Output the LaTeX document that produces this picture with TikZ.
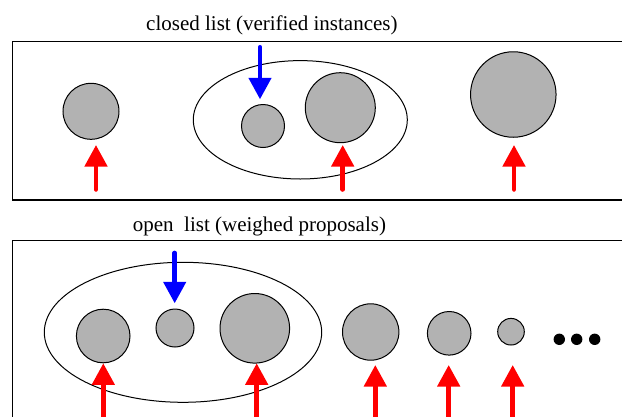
\documentclass[tikz,border=0pt]{standalone}
\usepackage{fontspec}
\setmainfont{Liberation Serif}
\usetikzlibrary{arrows.meta,shapes.geometric}
\definecolor{ballgray}{gray}{0.7}
\begin{document}
\begin{tikzpicture}[x=1pt,y=-1pt,
  frame/.style={draw=black,line width=1.3pt},
  ball/.style={circle,draw=black,line width=1pt,fill=ballgray,inner sep=0pt},
  group/.style={ellipse,draw=black,line width=1pt,inner sep=0pt},
  redarrow/.style={draw=red,line width=4.5pt,line cap=round,-{Triangle[length=21.5pt,width=22pt]}},
  bluearrow/.style={draw=blue,line width=4.5pt,line cap=round,-{Triangle[length=21.5pt,width=22pt]}},
  dot/.style={circle,fill=black,inner sep=0pt,minimum size=11.4pt},
  title/.style={anchor=base west,inner sep=0pt,font=\fontsize{21}{25}\selectfont}]
\useasboundingbox (0,0) rectangle (622,416);
\clip (0,0) rectangle (622,416);
\fill[white] (0,0) rectangle (622,416);

% ---------- closed list ----------
\node[title] (tclosed) at (146,30) {closed list (verified instances)};
\draw[frame] (12.5,41.5) rectangle (660,200);
\node[group,minimum width=214pt,minimum height=118.4pt] (g1) at (300.3,119.8) {};
\node[ball,minimum size=56pt] (c1) at (91,111.3) {};
\node[ball,minimum size=43pt] (c2) at (263,126) {};
\node[ball,minimum size=70pt] (c3) at (340.3,107.7) {};
\node[ball,minimum size=85.5pt] (c4) at (513.3,94.5) {};

\coordinate (b1t) at (260,47.2);
\coordinate (b1h) at (260,99.3);
\draw[bluearrow] (b1t) -- (b1h);

\coordinate (r1t) at (96,189.5);
\coordinate (r1h) at (96,145);
\coordinate (r2t) at (342.7,189.5);
\coordinate (r2h) at (342.7,145);
\coordinate (r3t) at (514,189.5);
\coordinate (r3h) at (514,145);
\draw[redarrow] (r1t) -- (r1h);
\draw[redarrow] (r2t) -- (r2h);
\draw[redarrow] (r3t) -- (r3h);

% ---------- open list ----------
\node[title] (topen) at (132.7,231) {open\ \ list (weighed proposals)};
\draw[frame] (12.5,240.7) rectangle (660,440);
\node[group,minimum width=277.4pt,minimum height=140pt] (g2) at (183,332.3) {};
\node[ball,minimum size=53.6pt] (c5) at (103.2,336) {};
\node[ball,minimum size=38pt] (c6) at (175,328) {};
\node[ball,minimum size=69.6pt] (c7) at (254.8,328.3) {};
\node[ball,minimum size=56.4pt] (c8) at (370.7,332) {};
\node[ball,minimum size=43.6pt] (c9) at (449.2,333.3) {};
\node[ball,minimum size=26.6pt] (c10) at (511,331.7) {};
\node[dot] (d1) at (559.3,339.3) {};
\node[dot] (d2) at (576.7,339.3) {};
\node[dot] (d3) at (594.7,339.3) {};

\coordinate (b2t) at (174.7,252.9);
\coordinate (b2h) at (174.7,303.3);
\draw[bluearrow] (b2t) -- (b2h);

\coordinate (r4t) at (103.3,430);
\coordinate (r4h) at (103.3,363.3);
\coordinate (r5t) at (256.7,430);
\coordinate (r5h) at (256.7,363.3);
\coordinate (r6t) at (375.3,430);
\coordinate (r6h) at (375.3,365);
\coordinate (r7t) at (448.7,430);
\coordinate (r7h) at (448.7,365);
\coordinate (r8t) at (512.7,430);
\coordinate (r8h) at (512.7,365);
\foreach \i in {4,...,8} {\draw[redarrow] (r\i t) -- (r\i h);}
\end{tikzpicture}
\end{document}
